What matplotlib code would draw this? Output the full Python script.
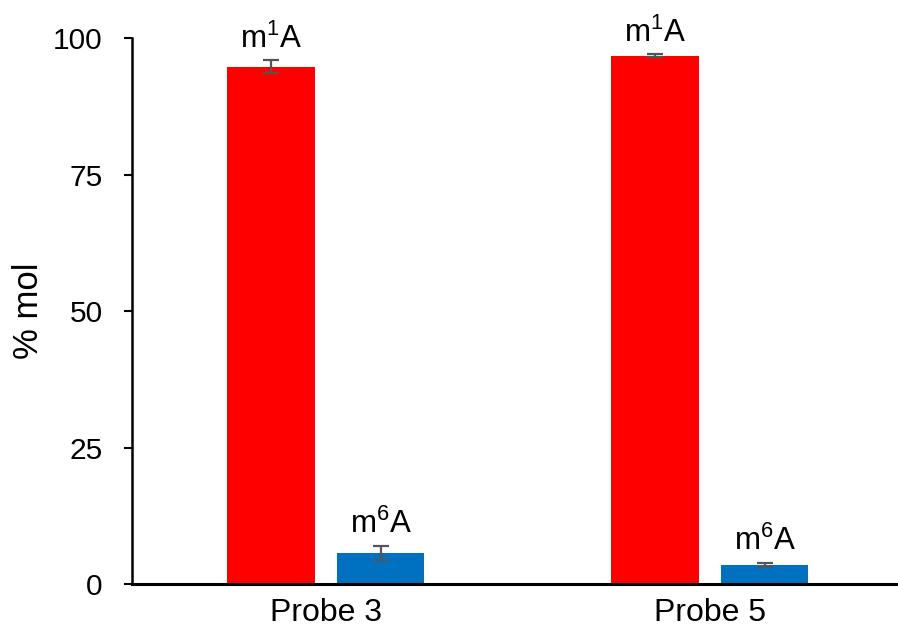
import numpy as np
import matplotlib
matplotlib.use("Agg")
import matplotlib.pyplot as plt

plt.rcParams['font.family'] = ['Liberation Sans', 'DejaVu Sans']
plt.rcParams['mathtext.fontset'] = 'custom'
plt.rcParams['mathtext.rm'] = 'Liberation Sans'

probes = ["Probe 3", "Probe 5"]
m1a_values = [94.8, 96.8]
m1a_errors = [1.2, 0.3]
m6a_values = [5.7, 3.5]
m6a_errors = [1.3, 0.4]
labels = ["m$^{1}$A", "m$^{6}$A"]
colors = ["#FF0000", "#0070C0"]

fig = plt.figure(figsize=(8.98, 6.37), dpi=100)
ax = fig.add_axes([0.147, 0.083, 0.853, 0.857])

x = np.arange(len(probes))
width = 0.227
offset = 0.143

series = [(m1a_values, m1a_errors), (m6a_values, m6a_errors)]
for i, (vals, errs) in enumerate(series):
    pos = x + (offset if i else -offset)
    ax.bar(pos, vals, width, color=colors[i], zorder=2)
    ax.errorbar(pos, vals, yerr=errs, fmt='none', ecolor='#555555',
                elinewidth=1.6, capsize=5.5, capthick=1.6, zorder=3)
    for p, v, e in zip(pos, vals, errs):
        ax.annotate(labels[i], (p, v + e), xytext=(0, 9), textcoords='offset points',
                    ha='center', va='baseline', fontsize=22.5)

ax.set_xlim(-0.505, 1.49)
ax.set_ylim(0, 100)
ax.set_yticks([0, 25, 50, 75, 100])
ax.set_xticks(x)
ax.set_xticklabels(probes, fontsize=23)
ax.tick_params(axis='y', labelsize=21.5, length=6, width=1.5, pad=15)
ax.tick_params(axis='x', length=0, pad=10)
ax.set_ylabel("% mol", fontsize=25, labelpad=6)

for s in ['top', 'right']:
    ax.spines[s].set_visible(False)
ax.spines['left'].set_linewidth(1.8)
ax.spines['bottom'].set_linewidth(2.2)

fig.savefig("out.png", dpi=100)
